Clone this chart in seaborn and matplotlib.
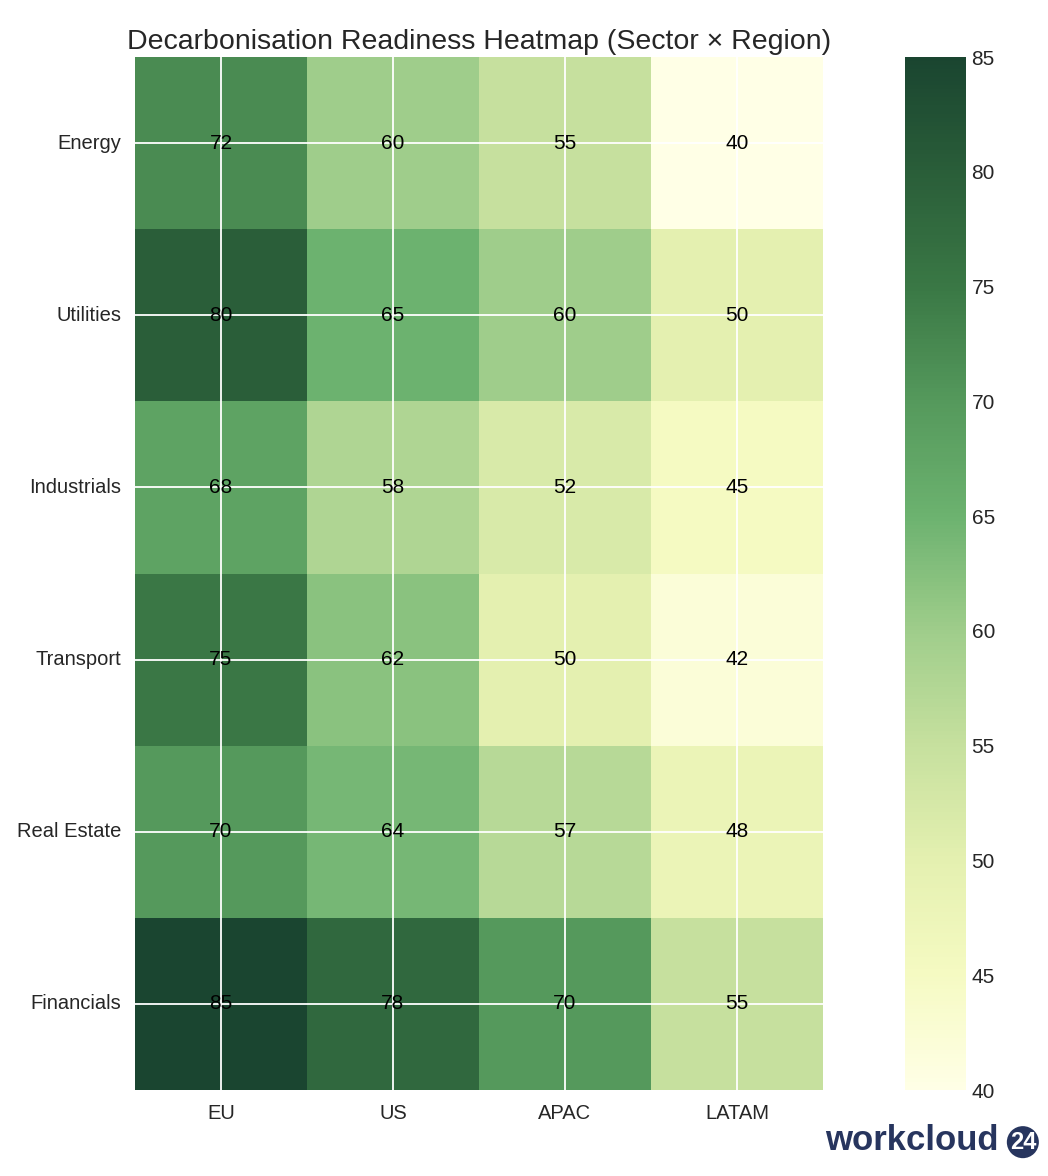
import matplotlib
matplotlib.use("Agg")
import matplotlib.pyplot as plt
from matplotlib.colors import LinearSegmentedColormap
import pandas as pd
import seaborn as sns

sectors = ["Energy", "Utilities", "Industrials", "Transport", "Real Estate", "Financials"]
regions = ["EU", "US", "APAC", "LATAM"]
eu = [72, 80, 68, 75, 70, 85]
us = [60, 65, 58, 62, 64, 78]
apac = [55, 60, 52, 50, 57, 70]
latam = [40, 50, 45, 42, 48, 55]
cbar_ticks = [40, 45, 50, 55, 60, 65, 70, 75, 80, 85]

# muted YlGn
cmap_stops = [40, 45, 50, 55, 60, 65, 70, 75, 80, 85]
cmap_colors = ["#ffffe6", "#f5fac2", "#e4f0b0", "#c6e09e", "#9fcd8b",
               "#6cb26f", "#55995c", "#3a7845", "#2a5e39", "#1a4530"]


def main():
    sns.set_theme(style="darkgrid")
    plt.rcParams['font.family'] = ['Liberation Sans', 'DejaVu Sans']

    scores = pd.DataFrame({"EU": eu, "US": us, "APAC": apac, "LATAM": latam},
                          index=sectors)[regions]

    span = cmap_stops[-1] - cmap_stops[0]
    cmap = LinearSegmentedColormap.from_list(
        "muted_ylgn",
        [((v - cmap_stops[0]) / span, c) for v, c in zip(cmap_stops, cmap_colors)])

    fig = plt.figure(figsize=(10.48, 11.76), dpi=100)
    ax = fig.add_axes([0.1288, 0.0731, 0.6565, 0.8784])
    cax = fig.add_axes([0.8636, 0.0731, 0.0582, 0.8784])

    sns.heatmap(scores, ax=ax, cbar_ax=cax, cmap=cmap, vmin=40, vmax=85,
                annot=True, fmt="d",
                annot_kws={"color": "black", "fontsize": 15})

    ax.set_axisbelow(False)
    ax.grid(True, color="white", linewidth=1.3)
    ax.tick_params(axis="both", length=0, labelsize=14.5, pad=10)
    ax.set_yticklabels(sectors, rotation=0)
    ax.set_xticklabels(regions, rotation=0)
    ax.set_xlabel("")
    ax.set_ylabel("")
    ax.set_title("Decarbonisation Readiness Heatmap (Sector \u00d7 Region)",
                 fontsize=20.5, color="#262626", pad=6)

    cax.set_yticks(cbar_ticks)
    cax.tick_params(length=0, labelsize=15, pad=4)

    fig.text(0.953, 0.016, "workcloud", ha="right", va="bottom",
             fontsize=25, fontweight="bold", color="#27355e")
    fig.text(0.976, 0.019, "24", ha="center", va="bottom", fontsize=17,
             fontweight="bold", color="white",
             bbox=dict(boxstyle="circle,pad=0.12", fc="#27355e", ec="none"))

    fig.savefig("out.png", dpi=100)
    plt.close(fig)


main()
